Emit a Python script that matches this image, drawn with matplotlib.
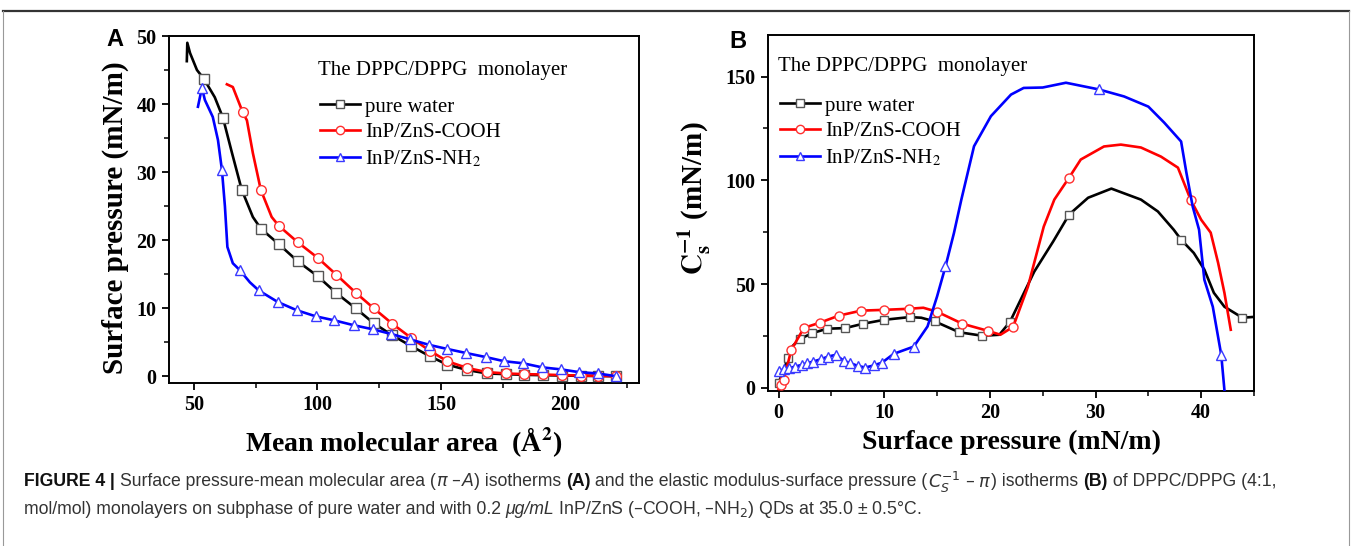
import matplotlib

matplotlib.use("Agg")
import matplotlib.pyplot as plt
from matplotlib import font_manager
from matplotlib.lines import Line2D
from matplotlib.ticker import MultipleLocator

W, H = 1352, 546

# Panel A: pi-A isotherms (mean molecular area in A^2, surface pressure in mN/m)
water_a_x = [47.2, 47.4, 48.5, 51.3, 54.1, 58.5, 61.8, 65.4, 69.4, 73.9, 77.1, 84.4, 92.0, 100.1,
             107.7, 115.4, 122.7, 130.3, 138.0, 145.6, 152.5, 160.6, 168.6, 176.3, 183.5, 191.0,
             198.9, 206.5, 213.5, 220.6]
water_a_y = [46.3, 49.0, 47.5, 45.0, 43.7, 41.0, 38.0, 32.9, 27.4, 23.4, 21.7, 19.4, 16.9, 14.7,
             12.2, 10.0, 7.8, 6.0, 4.4, 2.9, 1.7, 0.9, 0.4, 0.3, 0.2, 0.15, 0.1, 0.05, 0.03, 0.0]
water_a_marks = [4, 6, 8] + list(range(10, 30))

cooh_a_x = [63.4, 65.8, 69.8, 71.5, 73.9, 77.1, 81.5, 84.4, 92.0, 100.1, 107.7, 115.4, 122.7,
            130.3, 138.0, 145.6, 152.5, 160.6, 168.6, 176.3, 183.5, 191.0, 198.9, 206.5, 213.5,
            220.6]
cooh_a_y = [42.9, 42.5, 38.8, 37.6, 32.8, 27.4, 23.4, 22.1, 19.7, 17.4, 14.9, 12.3, 10.0, 7.7,
            5.6, 3.7, 2.2, 1.2, 0.6, 0.4, 0.3, 0.25, 0.15, 0.1, 0.05, 0.0]
cooh_a_marks = [2, 5] + list(range(7, 26))

nh2_a_x = [51.7, 53.3, 54.5, 57.7, 59.8, 61.4, 62.6, 63.6, 65.8, 68.6, 72.7, 76.3, 84.0, 91.6,
           99.3, 106.9, 114.6, 122.3, 129.9, 137.6, 145.2, 152.5, 160.2, 168.2, 175.5, 183.1,
           190.8, 198.5, 205.7, 213.4, 220.6]
nh2_a_y = [39.6, 42.4, 40.6, 38.1, 34.7, 30.3, 25.0, 19.0, 16.6, 15.6, 13.8, 12.6, 10.9, 9.7,
           8.8, 8.2, 7.5, 6.9, 6.2, 5.4, 4.6, 4.0, 3.4, 2.8, 2.2, 1.9, 1.3, 1.0, 0.6, 0.4, 0.0]
nh2_a_marks = [1, 5, 9, 11] + list(range(12, 31))

# Panel B: compression modulus vs surface pressure
water_b_x = [0.0, 0.9, 1.3, 2.0, 3.2, 4.6, 6.3, 8.0, 10.0, 12.4, 13.5, 14.8, 17.1, 19.3, 20.9,
             21.9, 24.2, 26.0, 27.5, 29.3, 31.5, 34.3, 35.9, 37.4, 38.1, 39.3, 40.3, 41.2, 42.2,
             43.9, 45.0]
water_b_y = [2.4, 14.3, 20.0, 23.5, 26.4, 28.5, 28.8, 30.9, 32.8, 34.1, 33.8, 32.0, 26.8, 25.1,
             25.6, 31.8, 56.0, 70.6, 83.5, 91.6, 96.0, 90.7, 85.0, 76.2, 71.4, 65.0, 57.0, 45.8,
             39.1, 33.8, 34.2]
water_b_marks = [0, 1, 3, 4, 5, 6, 7, 8, 9, 11, 12, 13, 15, 18, 24, 29]

cooh_b_x = [0.0, 0.2, 0.5, 1.2, 2.4, 3.9, 5.7, 7.8, 10.0, 12.3, 13.7, 15.0, 17.4, 19.8, 21.0,
            22.2, 23.6, 25.1, 26.1, 27.5, 28.6, 30.8, 32.4, 34.3, 36.2, 37.8, 39.0, 40.0, 40.9,
            41.6, 42.2, 42.8]
cooh_b_y = [-0.5, 1.4, 3.9, 18.3, 28.9, 31.4, 34.8, 37.2, 37.6, 38.1, 38.6, 36.7, 30.9, 27.5,
            25.6, 29.4, 48.7, 77.7, 90.7, 101.3, 110.0, 116.3, 117.2, 115.8, 111.4, 106.1, 90.7,
            81.0, 74.8, 60.3, 45.8, 28.0]
cooh_b_marks = [1, 2, 3, 4, 5, 6, 7, 8, 9, 11, 12, 13, 15, 19, 26]

nh2_b_x = [0.0, 0.5, 1.0, 1.6, 2.2, 2.7, 3.3, 4.0, 4.7, 5.4, 6.2, 6.8, 7.5, 8.2, 9.0, 9.8, 10.9,
           12.8, 14.1, 15.0, 15.8, 16.6, 17.3, 18.5, 20.1, 22.0, 23.2, 25.0, 27.2, 30.3, 32.7,
           35.0, 36.5, 38.1, 38.6, 39.2, 39.8, 40.0, 40.3, 41.1, 41.7, 41.9, 42.2]
nh2_b_y = [8.0, 9.0, 9.5, 10.3, 11.1, 11.9, 12.7, 13.8, 15.1, 15.9, 13.0, 11.9, 10.6, 9.8, 10.8,
           12.2, 16.4, 19.9, 29.6, 44.0, 58.5, 74.6, 90.7, 116.4, 130.9, 141.3, 144.5, 144.7,
           147.0, 143.8, 140.4, 135.5, 127.8, 118.7, 103.7, 87.3, 76.2, 66.6, 52.1, 39.1, 21.7,
           15.9, -1.0]
nh2_b_marks = list(range(0, 18)) + [20, 29, 41]

labels = ["pure water", "InP/ZnS-COOH", "InP/ZnS-NH$_2$"]
colors = ["#000000", "#ff0000", "#0000ff"]
edge_colors = ["#555555", "#ff3030", "#3a3aff"]
markers = ["s", "o", "^"]

SERIF = "Liberation Serif"
plt.rcParams["mathtext.fontset"] = "stix"


def has_font(name):
    try:
        font_manager.findfont(name, fallback_to_default=False)
        return True
    except Exception:
        return False


CAP_FONT = "Liberation Sans Narrow" if has_font("Liberation Sans Narrow") else "Liberation Sans"
CAP_SIZE = 11.5 if CAP_FONT == "Liberation Sans Narrow" else 12.7


def fx(px):
    return px / W


def fy(py):
    return 1 - py / H


fig = plt.figure(figsize=(W / 100, H / 100), dpi=100)

ax_a = fig.add_axes([fx(169), fy(383), fx(639) - fx(169), fy(36) - fy(383)])
ax_b = fig.add_axes([fx(768), fy(391), fx(1254) - fx(768), fy(35) - fy(391)])


def draw(ax, xs, ys, marks, i, ms):
    ax.plot(xs, ys, color=colors[i], lw=1.9, marker=markers[i], markevery=marks,
            ms=ms, mfc="white", mec=edge_colors[i], mew=1.0, zorder=3 + i * 0.1)


draw(ax_a, water_a_x, water_a_y, water_a_marks, 0, 6.5)
draw(ax_a, cooh_a_x, cooh_a_y, cooh_a_marks, 1, 7)
draw(ax_a, nh2_a_x, nh2_a_y, nh2_a_marks, 2, 7)

draw(ax_b, water_b_x, water_b_y, water_b_marks, 0, 6)
draw(ax_b, cooh_b_x, cooh_b_y, cooh_b_marks, 1, 6.5)
draw(ax_b, nh2_b_x, nh2_b_y, nh2_b_marks, 2, 6.5)

ax_a.set_xlim(40, 230)
ax_a.set_ylim(-1.0, 50)
ax_a.xaxis.set_major_locator(MultipleLocator(50))
ax_a.xaxis.set_minor_locator(MultipleLocator(25))
ax_a.yaxis.set_major_locator(MultipleLocator(10))
ax_a.yaxis.set_minor_locator(MultipleLocator(5))

ax_b.set_xlim(-1.0, 45)
ax_b.set_ylim(-1.5, 170)
ax_b.xaxis.set_major_locator(MultipleLocator(10))
ax_b.xaxis.set_minor_locator(MultipleLocator(5))
ax_b.yaxis.set_major_locator(MultipleLocator(50))
ax_b.yaxis.set_minor_locator(MultipleLocator(25))

for ax in (ax_a, ax_b):
    for sp in ax.spines.values():
        sp.set_linewidth(1.4)
    ax.tick_params(which="major", direction="out", length=5, width=1.3, pad=4)
    ax.tick_params(which="minor", direction="out", length=3.5, width=1.1)
    ax.tick_params(top=False, right=False)
    for lab in ax.get_xticklabels() + ax.get_yticklabels():
        lab.set_fontfamily(SERIF)
        lab.set_fontweight("bold")
        lab.set_fontsize(14.5)

# legends
for ax, title_xy, anchor in ((ax_a, (318, 70), (320, 97)), (ax_b, (778, 67), (780, 96))):
    fig.text(fx(title_xy[0]), fy(title_xy[1]), "The DPPC/DPPG  monolayer", family=SERIF,
             fontsize=15, ha="left", va="center")
    handles = [Line2D([], [], color=colors[i], lw=1.9, marker=markers[i], ms=6, mfc="white",
                      mec=edge_colors[i], mew=1.0) for i in range(3)]
    ax.legend(handles, labels, loc="upper left", bbox_to_anchor=(fx(anchor[0]), fy(anchor[1])),
              bbox_transform=fig.transFigure, frameon=False, borderpad=0, borderaxespad=0,
              handlelength=1.9, handletextpad=0.25, labelspacing=0.3,
              prop={"family": SERIF, "size": 15})

# axis labels
fig.text(fx(115), fy(218), "Surface pressure (mN/m)", family=SERIF, weight="bold",
         fontsize=21, rotation=90, ha="center", va="center")
fig.text(fx(404), fy(442), "Mean molecular area  (Å$\\mathbf{^2}$)", family=SERIF,
         weight="bold", fontsize=20, ha="center", va="center")
fig.text(fx(694), fy(198), "$\\mathbf{C_s^{-1}}$ (mN/m)", family=SERIF, weight="bold",
         fontsize=21, rotation=90, ha="center", va="center")
fig.text(fx(1011), fy(442), "Surface pressure (mN/m)", family=SERIF, weight="bold",
         fontsize=20, ha="center", va="center")

fig.text(fx(115), fy(40), "A", family="Liberation Sans", weight="bold", fontsize=17,
         ha="center", va="center")
fig.text(fx(738), fy(42), "B", family="Liberation Sans", weight="bold", fontsize=17,
         ha="center", va="center")

# outer frame of the figure panel
fig.add_artist(Line2D([fx(3), fx(1349)], [fy(11), fy(11)], color="#333333", lw=1.6))
fig.add_artist(Line2D([fx(3), fx(3)], [fy(11), 0], color="#999999", lw=0.8))
fig.add_artist(Line2D([fx(1349), fx(1349)], [fy(11), 0], color="#999999", lw=0.8))

# caption, drawn piece by piece so bold / italic parts can be mixed
cap_lines = [
    [("FIGURE 4", "bold", "normal", "#111111"), (" | ", "bold", "normal", "#111111"),
     ("Surface pressure-mean molecular area (", "normal", "normal", None),
     ("$\\pi$ \u2013 ", "normal", "italic", None), ("A", "normal", "italic", None),
     (") isotherms ", "normal", "normal", None), ("(A)", "bold", "normal", "#111111"),
     (" and the elastic modulus-surface pressure (", "normal", "normal", None),
     ("$C_S^{-1}$ \u2013 $\\pi$", "normal", "normal", None),
     (") isotherms ", "normal", "normal", None), ("(B)", "bold", "normal", "#111111"),
     (" of DPPC/DPPG (4:1,", "normal", "normal", None)],
    [("mol/mol) monolayers on subphase of pure water and with 0.2 ", "normal", "normal", None),
     ("\u03bcg/mL", "normal", "italic", None),
     (" InP/ZnS (\u2013COOH, \u2013NH$_2$) QDs at 35.0 \u00b1 0.5\u00b0C.", "normal", "normal",
      None)],
]
renderer = fig.canvas.get_renderer()
for row, py in zip(cap_lines, (482, 510)):
    x = fx(24)
    for text, weight, style, col in row:
        t = fig.text(x, fy(py), text, family=CAP_FONT, weight=weight, style=style,
                     fontsize=CAP_SIZE, color=col or "#333333", ha="left", va="center",
                     math_fontfamily="dejavusans")
        x += t.get_window_extent(renderer).width / W

fig.savefig("out.png", dpi=100)
